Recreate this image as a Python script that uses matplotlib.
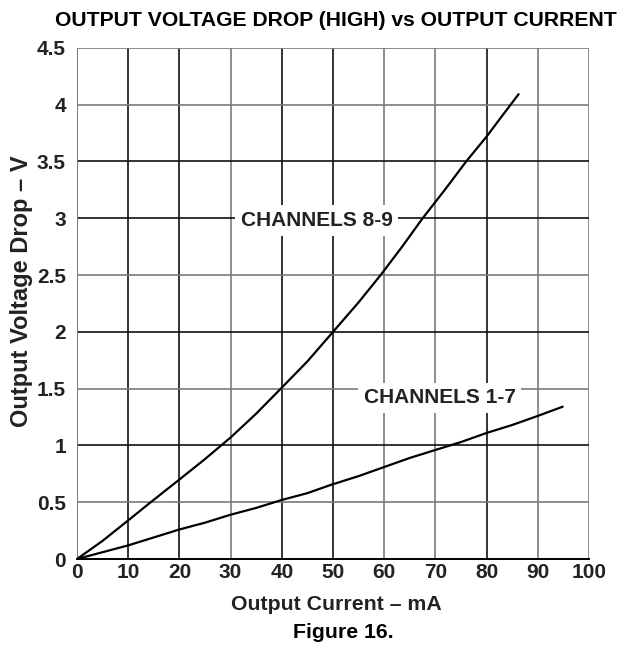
import matplotlib
matplotlib.use("Agg")
import matplotlib.pyplot as plt

plt.rcParams["font.family"] = ["Liberation Sans", "DejaVu Sans"]
plt.rcParams["font.weight"] = "bold"

# Output current (mA) vs output voltage drop (V)
ch89_current = [0, 5, 10, 14.4, 20, 25, 30, 35, 39.8, 45, 50, 55, 59.3, 63.5, 67.5, 72, 76, 80, 83, 86.2]
ch89_voltage = [0, 0.16, 0.34, 0.5, 0.70, 0.88, 1.07, 1.28, 1.5, 1.74, 2.0, 2.26, 2.5, 2.75, 3.0, 3.26, 3.5, 3.72, 3.9, 4.09]

ch17_current = [0, 5, 10, 15, 20, 25, 30, 35, 40, 45, 49.4, 55, 60, 65, 70, 75, 80, 85, 90, 94.8]
ch17_voltage = [0, 0.06, 0.12, 0.19, 0.26, 0.32, 0.39, 0.45, 0.52, 0.58, 0.65, 0.73, 0.81, 0.89, 0.96, 1.03, 1.11, 1.18, 1.26, 1.34]

x_ticks = [0, 10, 20, 30, 40, 50, 60, 70, 80, 90, 100]
y_ticks = [0, 0.5, 1, 1.5, 2, 2.5, 3, 3.5, 4, 4.5]
y_tick_labels = ["0", "0.5", "1", "1.5", "2", "2.5", "3", "3.5", "4", "4.5"]

# the scanned grid mixes black and grey lines
vgrid_dark = [10, 20, 40, 50, 80]
hgrid_dark = [1, 2, 3, 3.5]

TXT = "#222222"

fig = plt.figure(figsize=(6.26, 6.47), dpi=100)
ax = fig.add_axes([0.123, 0.136, 0.818, 0.790])

for x in x_ticks[1:]:
    c = "#111111" if x in vgrid_dark else "#7a7a7a"
    ax.axvline(x, color=c, lw=1.2, zorder=1)
for y in y_ticks[1:]:
    c = "#111111" if y in hgrid_dark else "#7a7a7a"
    ax.axhline(y, color=c, lw=1.2, zorder=1)

ax.plot(ch89_current, ch89_voltage, color="black", lw=1.6, zorder=3)
ax.plot(ch17_current, ch17_voltage, color="black", lw=1.6, zorder=3)

box = dict(facecolor="white", edgecolor="none", pad=4)
ax.text(46.8, 2.98, "CHANNELS 8-9", ha="center", va="center", fontsize=15,
        fontweight="bold", color=TXT, bbox=box, zorder=4)
ax.text(70.8, 1.42, "CHANNELS 1-7", ha="center", va="center", fontsize=15,
        fontweight="bold", color=TXT, bbox=box, zorder=4)

ax.set_xlim(0, 100)
ax.set_ylim(0, 4.5)
ax.set_xticks(x_ticks)
ax.set_yticks(y_ticks)
ax.set_yticklabels(y_tick_labels)
ax.tick_params(length=0, labelsize=15)
ax.tick_params(axis="y", pad=8)
ax.tick_params(axis="x", pad=3)
for lbl in ax.get_xticklabels() + ax.get_yticklabels():
    lbl.set_fontweight("bold")
    lbl.set_color(TXT)

for side in ["top", "right", "left"]:
    ax.spines[side].set_visible(False)
ax.spines["bottom"].set_color("black")
ax.spines["bottom"].set_linewidth(1.4)
ax.axvline(0, color="#7a7a7a", lw=1.4, zorder=2)

fig.text(0.537, 0.065, "Output Current \u2013 mA", ha="center", va="center",
         fontsize=15.3, fontweight="bold", color=TXT)
fig.text(0.035, 0.55, "Output Voltage Drop \u2013 V", ha="center", va="center",
         rotation=90, fontsize=17, fontweight="bold", color=TXT)

fig.text(0.537, 0.969, "OUTPUT VOLTAGE DROP (HIGH) vs OUTPUT CURRENT",
         ha="center", va="center", fontsize=15.2, fontweight="bold", color="black")
fig.text(0.548, 0.023, "Figure 16.", ha="center", va="center", fontsize=15.3,
         fontweight="bold", color="black")

fig.savefig("out.png", dpi=100)
